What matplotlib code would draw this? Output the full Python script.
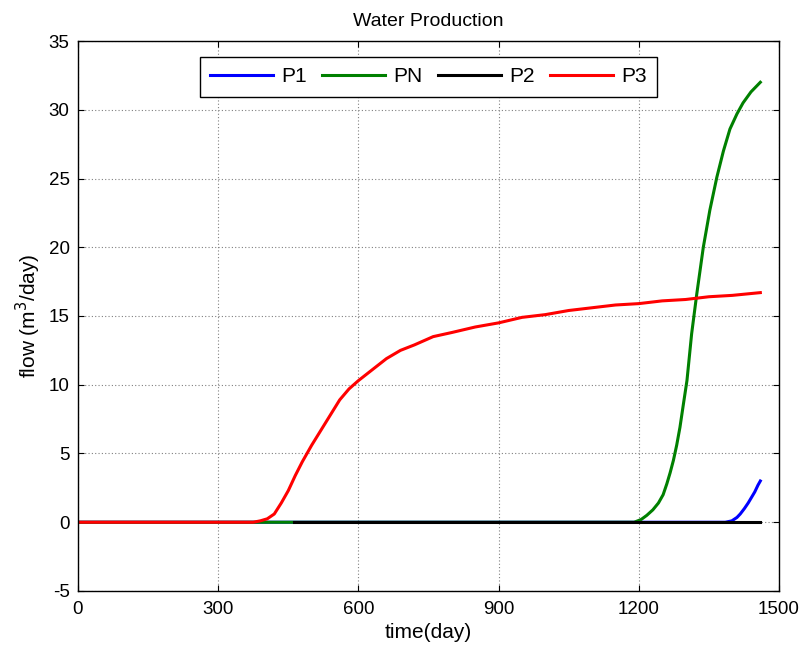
import matplotlib
matplotlib.use('Agg')
import matplotlib.pyplot as plt
import numpy as np

plt.rcParams['font.family'] = ['Liberation Sans', 'DejaVu Sans']
plt.rcParams['axes.unicode_minus'] = False

# P3 (red)
t_p3 = [0, 100, 200, 300, 375, 390, 405, 420, 435, 450, 465, 480, 500, 520, 540, 560, 580,
        600, 630, 660, 690, 720, 760, 800, 850, 900, 950, 1000, 1050, 1100, 1150, 1200,
        1250, 1300, 1350, 1400, 1430, 1460]
q_p3 = [0, 0, 0, 0, 0, 0.1, 0.25, 0.6, 1.4, 2.3, 3.4, 4.4, 5.6, 6.7, 7.8, 8.9, 9.7,
        10.3, 11.1, 11.9, 12.5, 12.9, 13.5, 13.8, 14.2, 14.5, 14.9, 15.1, 15.4, 15.6, 15.8, 15.9,
        16.1, 16.2, 16.4, 16.5, 16.6, 16.7]

# PN (green)
t_pn = [0, 300, 600, 900, 1190, 1205, 1217, 1230, 1242, 1252, 1260, 1267, 1274, 1281, 1288,
        1295, 1303, 1313, 1324, 1338, 1352, 1367, 1381, 1395, 1410, 1423, 1440, 1460]
q_pn = [0, 0, 0, 0, 0, 0.2, 0.5, 0.9, 1.4, 2.0, 2.8, 3.6, 4.5, 5.6, 6.9,
        8.5, 10.3, 13.7, 16.6, 20.0, 22.7, 25.1, 27.0, 28.6, 29.7, 30.5, 31.3, 32.0]

# P1 (blue)
t_p1 = [0, 300, 600, 900, 1200, 1385, 1399, 1410, 1417, 1426, 1434, 1441, 1448, 1455, 1460]
q_p1 = [0, 0, 0, 0, 0, 0, 0.1, 0.35, 0.6, 1.0, 1.4, 1.8, 2.2, 2.7, 3.0]

# P2 (black)
t_p2 = [463, 700, 900, 1100, 1300, 1460]
q_p2 = [0, 0, 0, 0, 0, 0]

fig = plt.figure(figsize=(7.99, 6.5), dpi=100)
ax = fig.add_axes([0.0976, 0.0908, 0.8774, 0.8461])

lw = 2.2
ax.plot(t_p1, q_p1, color=(0, 0, 1), lw=lw, label='P1')
ax.plot(t_pn, q_pn, color=(0, 0.5, 0), lw=lw, label='PN')
ax.plot(t_p2, q_p2, color='black', lw=lw, label='P2')
ax.plot(t_p3, q_p3, color=(1, 0, 0), lw=lw, label='P3')

ax.set_xlim(0, 1500)
ax.set_ylim(-5, 35)
ax.set_xticks(np.arange(0, 1501, 300))
ax.set_yticks(np.arange(-5, 36, 5))
ax.tick_params(direction='in', top=True, right=True, labelsize=13.5, length=4)
ax.tick_params(axis='x', pad=7)
ax.tick_params(axis='y', pad=6)
ax.grid(True, color='#808080', linestyle=(0, (1, 2)), linewidth=0.8)
for s in ax.spines.values():
    s.set_linewidth(1.0)

ax.set_title('Water Production', fontsize=14, pad=11)
ax.set_xlabel('time(day)', fontsize=15, labelpad=4)
ax.set_ylabel('flow (m$^3$/day)', fontsize=15, labelpad=4)

leg = ax.legend(loc='upper center', bbox_to_anchor=(0.5, 0.971), ncol=4, fontsize=15,
                frameon=True, fancybox=False, edgecolor='black', framealpha=1,
                handlelength=3.0, columnspacing=0.75, handletextpad=0.4,
                borderpad=0.5, borderaxespad=0)
leg.get_frame().set_linewidth(1.0)

fig.savefig('out.png', dpi=100)
